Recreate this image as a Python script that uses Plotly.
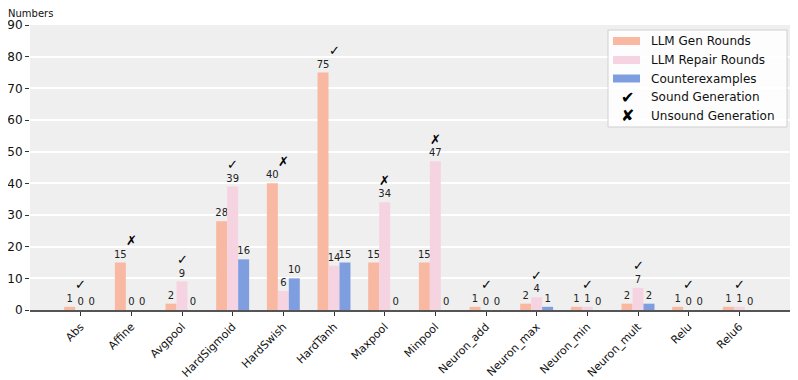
import plotly.graph_objects as go

# data
ops = ['Abs', 'Affine', 'Avgpool', 'HardSigmoid', 'HardSwish', 'HardTanh', 'Maxpool',
       'Minpool', 'Neuron_add', 'Neuron_max', 'Neuron_min', 'Neuron_mult', 'Relu', 'Relu6']
gen_rounds = [1, 15, 2, 28, 40, 75, 15, 15, 1, 2, 1, 2, 1, 1]
repair_rounds = [0, 0, 9, 39, 6, 14, 34, 47, 0, 4, 1, 7, 0, 1]
counterexamples = [0, 0, 0, 16, 10, 15, 0, 0, 0, 1, 0, 2, 0, 0]
sound = [True, False, True, True, False, True, False, False, True, True, True, True, True, True]

C_GEN = '#F8B8A2'
C_REP = '#F6D3E1'
C_CEX = '#7F9EE0'
FONT = 'DejaVu Sans'

# page body has an 8px margin, so the figure is drawn 8px in from the window edge
OFF = 8
WIN_W, WIN_H = 798, 380
W, H = WIN_W - OFF, WIN_H - OFF
# plot area in window pixels
L, R, T, B = 30, 790, 25, 310


def px(x):
    return (x - L) / (R - L)


def py(y):
    return (B - y) / (B - T)


fig = go.Figure()
for name, vals, col in [('LLM Gen Rounds', gen_rounds, C_GEN),
                        ('LLM Repair Rounds', repair_rounds, C_REP),
                        ('Counterexamples', counterexamples, C_CEX)]:
    fig.add_trace(go.Bar(
        x=ops, y=vals, name=name, marker_color=col,
        marker_line_width=0,
        text=[str(v) for v in vals], textposition='outside',
        textfont=dict(family=FONT, size=10, color='#222'),
        constraintext='none', cliponaxis=False, showlegend=False,
    ))

# sound / unsound marks above each group
for op, g, r, c, ok in zip(ops, gen_rounds, repair_rounds, counterexamples, sound):
    fig.add_annotation(x=op, y=max(g, r, c) + 7, text='✓' if ok else '✗',
                       showarrow=False, font=dict(family=FONT, size=13, color='black'),
                       xref='x', yref='y')

# legend drawn by hand
fig.add_shape(type='rect', xref='paper', yref='paper',
              x0=px(608), x1=px(787), y0=py(127), y1=py(30),
              line=dict(color='#D0D0D0', width=1), fillcolor='rgba(255,255,255,0.85)')
rows = [41, 60, 78.5, 97, 115.5]
labels = ['LLM Gen Rounds', 'LLM Repair Rounds', 'Counterexamples',
          'Sound Generation', 'Unsound Generation']
for i, (yy, lab) in enumerate(zip(rows, labels)):
    if i < 3:
        fig.add_shape(type='rect', xref='paper', yref='paper',
                      x0=px(613), x1=px(640), y0=py(yy + 4), y1=py(yy - 4),
                      line_width=0, fillcolor=[C_GEN, C_REP, C_CEX][i])
    else:
        fig.add_annotation(xref='paper', yref='paper', x=px(627), y=py(yy),
                           text='✔' if i == 3 else '✘', showarrow=False,
                           xanchor='center', yanchor='middle',
                           font=dict(family=FONT, size=16, color='black'))
    fig.add_annotation(xref='paper', yref='paper', x=px(649), y=py(yy), text=lab,
                       showarrow=False, xanchor='left', yanchor='middle',
                       font=dict(family=FONT, size=12, color='#111'))

# y-axis title sits at the very top of the figure
fig.add_annotation(xref='paper', yref='paper', x=px(7), y=py(OFF - 1), text='Numbers',
                   showarrow=False, xanchor='left', yanchor='top', borderpad=0,
                   font=dict(family=FONT, size=10, color='#111'))

fig.update_layout(
    width=W, height=H,
    margin=dict(l=L - OFF, r=WIN_W - R, t=T - OFF, b=WIN_H - B),
    paper_bgcolor='white', plot_bgcolor='#EFEFEF',
    barmode='group', bargap=0.35, bargroupgap=0,
    font=dict(family=FONT, size=11, color='#111'),
    showlegend=False,
    xaxis=dict(range=[-1, 14], tickangle=-45, ticks='outside', ticklen=4,
               tickcolor='#333', showline=True, linecolor='#555', linewidth=2,
               showgrid=False, tickfont=dict(size=11), automargin=False),
    yaxis=dict(range=[0, 90], dtick=10, ticks='outside', ticklen=4, tickcolor='#333',
               gridcolor='white', gridwidth=1.5, zeroline=False,
               tickfont=dict(size=12), automargin=False),
)

fig.write_html('out.html')
